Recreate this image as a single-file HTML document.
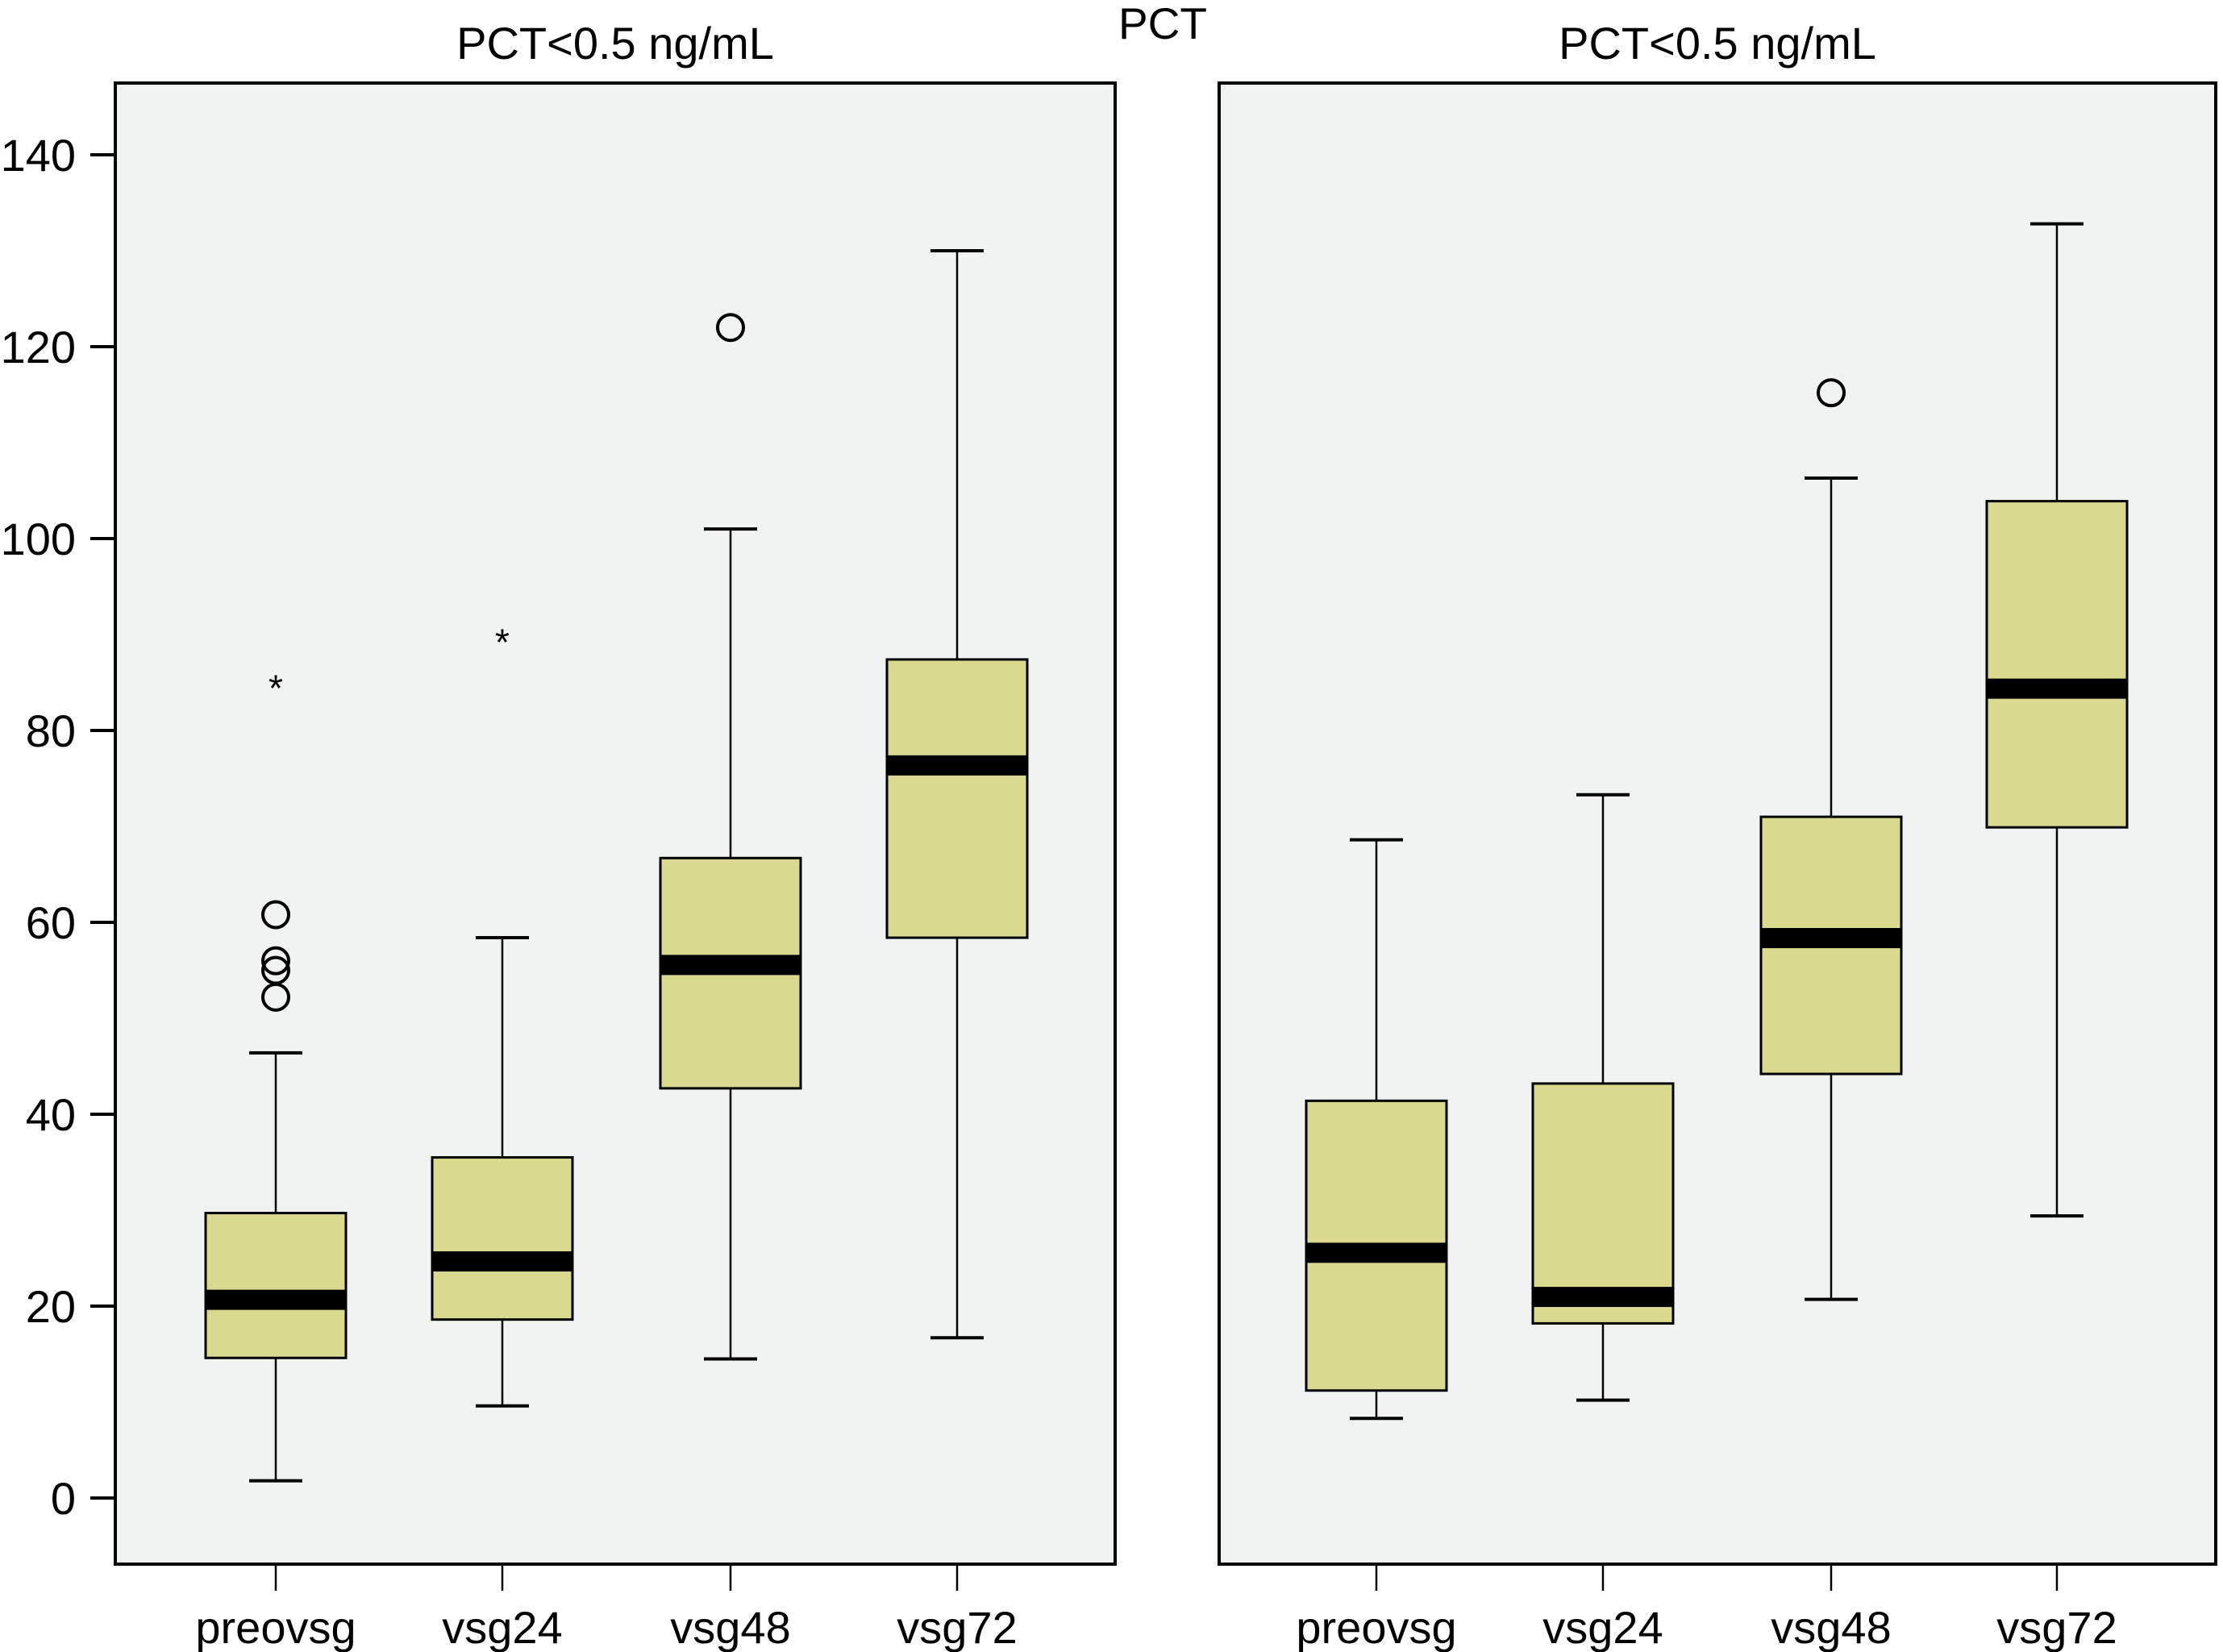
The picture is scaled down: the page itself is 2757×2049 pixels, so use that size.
<!DOCTYPE html>
<html><head><meta charset="utf-8">
<style>
html,body{margin:0;padding:0;background:#fff;}
svg{display:block;font-family:"Liberation Sans",sans-serif;}
</style></head>
<body>
<svg id="chart" width="2757" height="2049" viewBox="0 0 2757 2049" xmlns="http://www.w3.org/2000/svg">
<text x="1442" y="48" font-size="55" text-anchor="middle">PCT</text>
<g id="panels"></g>
</svg>
<script>
const categories = ["preovsg","vsg24","vsg48","vsg72"];
const yTicks = [0,20,40,60,80,100,120,140];
const panelTitles = ["PCT<0.5 ng/mL","PCT<0.5 ng/mL"];
// [low whisker, Q1, median, Q3, high whisker]
const leftStats = [[1.8,14.6,20.7,29.7,46.4],[9.6,18.6,24.7,35.5,58.4],[14.5,42.7,55.6,66.7,101],[16.7,58.4,76.4,87.4,130]];
const rightStats = [[8.3,11.2,25.6,41.4,68.6],[10.2,18.2,21,43.2,73.3],[20.7,44.2,58.4,71,106.3],[29.4,69.9,84.4,103.9,132.8]];
const leftCircles = [[60.8,56.0,55.0,52.2],[],[122],[]];
const leftStars = [[84.9],[89.7],[],[]];
const rightCircles = [[],[],[115.2],[]];
const rightStars = [[],[],[],[]];

const NS="http://www.w3.org/2000/svg";
const root=document.getElementById('panels');
function mk(tag,attrs,parent){const e=document.createElementNS(NS,tag);for(const k in attrs)e.setAttribute(k,attrs[k]);(parent||root).appendChild(e);return e;}
const y=v=>1858-v*(1858-192)/140;
const panels=[
 {x0:143,x1:1383,cx:[342,623,906,1187],stats:leftStats,circ:leftCircles,stars:leftStars,axis:true,name:'left'},
 {x0:1512,x1:2748,cx:[1707,1988,2271,2551],stats:rightStats,circ:rightCircles,stars:rightStars,axis:false,name:'right'}
];
panels.forEach((p,pi)=>{
 const g=mk('g',{});
 
 
 const bg=mk('rect',{x:p.x0,y:103,width:p.x1-p.x0,height:1940-103,fill:'#f0f3f2',stroke:'#000','stroke-width':4},g);
 
 
 const t=mk('text',{x:(p.x0+p.x1)/2,y:73,'font-size':56,'text-anchor':'middle'},g);
 t.textContent=panelTitles[pi];
 
 
 if(p.axis){
  yTicks.forEach(v=>{
   const tk=mk('line',{x1:112,x2:143,y1:y(v),y2:y(v),stroke:'#000','stroke-width':4},g);
   
   
   const tl=mk('text',{x:94,y:y(v)+20,'font-size':56,'text-anchor':'end'},g);
   tl.textContent=v;
   
   
  });
 }
 categories.forEach((c,i)=>{
  const cx=p.cx[i], s=p.stats[i], hw=87, cw=33;
  const xt=mk('line',{x1:cx,x2:cx,y1:1940,y2:1973,stroke:'#000','stroke-width':2.5},g);
  
  
  const xl=mk('text',{x:cx,y:2038,'font-size':56,'text-anchor':'middle'},g);
  xl.textContent=c;
  
  
  const bx=mk('g',{},g);
  
  
  mk('line',{x1:cx,x2:cx,y1:y(s[0]),y2:y(s[1]),stroke:'#000','stroke-width':2.5},bx);
  mk('line',{x1:cx,x2:cx,y1:y(s[3]),y2:y(s[4]),stroke:'#000','stroke-width':2.5},bx);
  mk('line',{x1:cx-cw,x2:cx+cw,y1:y(s[0]),y2:y(s[0]),stroke:'#000','stroke-width':4},bx);
  mk('line',{x1:cx-cw,x2:cx+cw,y1:y(s[4]),y2:y(s[4]),stroke:'#000','stroke-width':4},bx);
  mk('rect',{x:cx-hw,y:y(s[3]),width:2*hw,height:y(s[1])-y(s[3]),fill:'#d9d990',stroke:'#000','stroke-width':3},bx);
  const md=mk('rect',{x:cx-hw,y:y(s[2])-12,width:2*hw,height:25,fill:'#000'},bx);
  
  
  p.circ[i].forEach(v=>{
   const o=mk('circle',{cx:cx,cy:y(v),r:16,fill:'none',stroke:'#000','stroke-width':4},bx);
   
   
  });
  p.stars[i].forEach(v=>{
   const o=mk('text',{x:cx,y:y(v)+22,'font-size':46,'text-anchor':'middle'},bx);
   o.textContent='*';
   
   
  });
 });
});
</script>
</body></html>
